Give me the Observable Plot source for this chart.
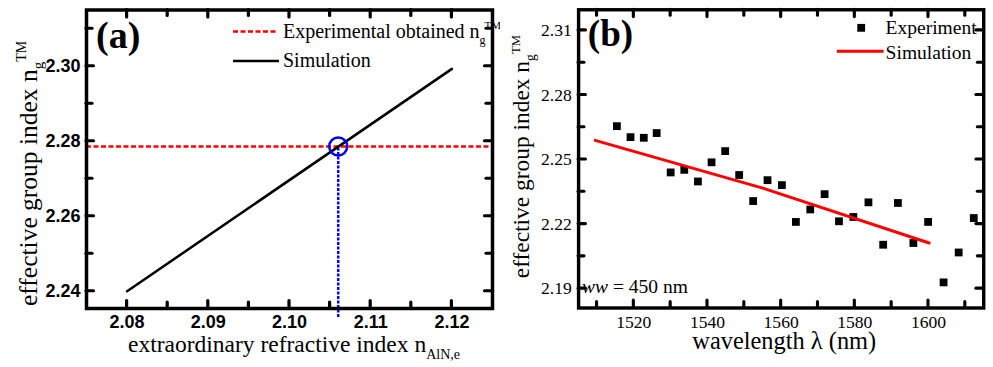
<!DOCTYPE html>
<html><head><meta charset="utf-8">
<script src="https://cdn.jsdelivr.net/npm/d3@7"></script>
<script src="https://cdn.jsdelivr.net/npm/@observablehq/plot@0.6"></script>
<style>
html,body{margin:0;padding:0;background:#fff;overflow:hidden;}
#wrap{position:relative;width:993px;height:367px;overflow:hidden;background:#fff;}
#a{position:absolute;left:0;top:0;}
#b{position:absolute;left:500px;top:0;}
</style></head><body><div id="wrap"><div id="a"></div><div id="b"></div></div>
<script>
// ---------- Panel (a) data ----------
const aSimNe = [2.08, 2.12];          // extraordinary refractive index
const aSimNg = [2.24, 2.2993];        // simulated group index
const aExpNg = 2.2786;                // experimentally obtained n_g
const aNe = 2.106;                    // extracted n_AlN,e
const aXTicks = [2.08, 2.09, 2.10, 2.11, 2.12];
const aXMinor = [2.085, 2.095, 2.105, 2.115];
const aYTicks = [2.24, 2.26, 2.28, 2.30];
const aYMinor = [2.25, 2.27, 2.29, 2.31];

// ---------- Panel (b) data ----------
const bWavelength = [1515.4,1519.1,1522.7,1526.2,1530.0,1533.7,1537.4,1541.1,1544.8,1548.6,1552.4,1556.3,1560.2,1564.0,1567.9,1571.8,1575.7,1579.6,1583.7,1587.7,1591.7,1595.9,1599.9,1604.1,1608.2,1612.3];
const bExperiment = [2.2655,2.2604,2.2601,2.2623,2.2440,2.2452,2.2398,2.2487,2.2539,2.2428,2.2307,2.2404,2.2381,2.2210,2.2268,2.2339,2.2213,2.2233,2.2301,2.2104,2.2298,2.2112,2.2210,2.1929,2.2068,2.2228];
const bSimWavelength = [1509.5, 1555, 1600.2];
const bSimulation = [2.2589, 2.2367, 2.2112];
const bXTicks = [1520, 1540, 1560, 1580, 1600];
const bXMinor = [1510, 1530, 1550, 1570, 1590, 1610];
const bYTicks = [2.19, 2.22, 2.25, 2.28, 2.31];
const bYMinor = [2.205, 2.235, 2.265, 2.295];

const H = 367;
const serif = "'Liberation Serif', 'Times New Roman', serif";
const sans = "'Liberation Sans', Arial, sans-serif";

// inward ticks on all four sides, positioned with the plot's own x/y scales
function innerTicks(svg, xs, xm, ys, ym, M) {
  const sx = svg.scale("x"), sy = svg.scale("y");
  const g = d3.select(svg).append("g").attr("stroke", "black").attr("stroke-width", 3.2).attr("stroke-linecap", "round");
  const left = M.l, right = M.w - M.r, top = M.t, bottom = H - M.b;
  [[xs, 7.5], [xm, 6]].forEach(([v, L]) => v.forEach(d => {
    const x = sx.apply(d);
    g.append("line").attr("x1", x).attr("x2", x).attr("y1", bottom).attr("y2", bottom - L);
    g.append("line").attr("x1", x).attr("x2", x).attr("y1", top).attr("y2", top + L);
  }));
  [[ys, 7.5], [ym, 6]].forEach(([v, L]) => v.forEach(d => {
    const y = sy.apply(d);
    g.append("line").attr("y1", y).attr("y2", y).attr("x1", left).attr("x2", left + L);
    g.append("line").attr("y1", y).attr("y2", y).attr("x1", right).attr("x2", right - L);
  }));
}

// ---------- Panel (a) ----------
const aM = {l: 86, r: 8, t: 9.5, b: 59, w: 500};
const aDomX = [2.075, 2.125], aDomY = [2.2354, 2.315];
const aLine = aSimNe.map((x, i) => ({x, y: aSimNg[i]}));
const svgA = Plot.plot({
  width: aM.w, height: H,
  marginLeft: aM.l, marginRight: aM.r, marginTop: aM.t, marginBottom: aM.b,
  x: {domain: aDomX},
  y: {domain: aDomY},
  style: {background: "white", color: "black", fontFamily: sans, overflow: "visible"},
  marks: [
    Plot.ruleY([aExpNg], {y: d => d, stroke: "#ff0000", strokeWidth: 2.5, strokeDasharray: "5,2.5"}),
    Plot.ruleX([aNe], {x: d => d, y1: aDomY[0], y2: aExpNg, insetTop: 9, stroke: "#0000ff", strokeWidth: 2.5, strokeDasharray: "3,1.5"}),
    Plot.line(aLine, {x: "x", y: "y", stroke: "black", strokeWidth: 2.5}),
    Plot.dot([{x: aNe, y: aExpNg}], {x: "x", y: "y", r: 9, stroke: "#0000ff", strokeWidth: 2.5, fill: "none"}),
    Plot.axisX(aXTicks, {tickSize: 0, tickPadding: 7, tickFormat: d3.format(".2f"), fontSize: 18, fontWeight: "bold", fontFamily: sans, label: null}),
    Plot.axisY(aYTicks, {tickSize: 0, tickPadding: 6, tickFormat: d3.format(".2f"), fontSize: 18, fontWeight: "bold", fontFamily: sans, label: null}),
    Plot.frame({stroke: "black", strokeWidth: 3.5})
  ]
});
document.getElementById("a").appendChild(svgA);
innerTicks(svgA, aXTicks, aXMinor, aYTicks, aYMinor, aM);

// ---------- Panel (b) ----------
const bM = {l: 80, r: 10, t: 9.5, b: 52, w: 505};
const bDomX = [1505, 1615], bDomY = [2.181, 2.3196];
const bPts = bWavelength.map((x, i) => ({x, y: bExperiment[i]}));
const bSim = bSimWavelength.map((x, i) => ({x, y: bSimulation[i]}));
const svgB = Plot.plot({
  width: bM.w, height: H,
  marginLeft: bM.l, marginRight: bM.r, marginTop: bM.t, marginBottom: bM.b,
  x: {domain: bDomX},
  y: {domain: bDomY},
  style: {background: "white", color: "black", fontFamily: serif, overflow: "visible"},
  marks: [
    Plot.dot(bPts, {x: "x", y: "y", symbol: "square", r: 4.5, fill: "black", stroke: "none"}),
    Plot.line(bSim, {x: "x", y: "y", stroke: "#ff0000", strokeWidth: 3}),
    Plot.axisX(bXTicks, {tickSize: 0, tickPadding: 8, tickFormat: d3.format("d"), fontSize: 18, fontFamily: serif, label: null}),
    Plot.axisY(bYTicks, {tickSize: 0, tickPadding: 7, tickFormat: d3.format(".2f"), fontSize: 18, fontFamily: serif, label: null}),
    Plot.frame({stroke: "black", strokeWidth: 3.5})
  ]
});
document.getElementById("b").appendChild(svgB);
innerTicks(svgB, bXTicks, bXMinor, bYTicks, bYMinor, bM);

// ---------- Text annotations ----------
function addText(svg, x, y, opts) {
  const t = d3.select(svg).append("text")
    .attr("x", x).attr("y", y)
    .attr("text-anchor", "start")
    .attr("font-family", serif).attr("font-size", opts.size || 20)
    .attr("font-weight", opts.weight || "normal")
    .attr("fill", "black");
  if (opts.rotate) t.attr("transform", `rotate(-90 ${x} ${y})`);
  (opts.parts || [{t: opts.text}]).forEach(p => {
    const s = t.append("tspan").text(p.t);
    if (p.size) s.attr("font-size", p.size);
    if (p.dy) s.attr("dy", p.dy);
    if (p.dx) s.attr("dx", p.dx);
    if (p.italic) s.attr("font-style", "italic");
  });
  return t;
}

// Panel (a)
addText(svgA, 96, 48, {text: "(a)", size: 38, weight: "bold"});
addText(svgA, 37, 306, {rotate: true, size: 25.5, parts: [
  {t: "effective group index n"}, {t: "g", size: 15, dy: 6}, {t: "TM", size: 14, dy: -17, dx: 0}]});
addText(svgA, 128, 352, {size: 23.5, parts: [
  {t: "extraordinary refractive index n"}, {t: "AlN,e", size: 14, dy: 7}]});
// legend (a)
d3.select(svgA).append("line").attr("x1", 233).attr("x2", 277).attr("y1", 31.5).attr("y2", 31.5)
  .attr("stroke", "#ff0000").attr("stroke-width", 2.5).attr("stroke-dasharray", "5,2.5");
addText(svgA, 283, 37.5, {size: 20, parts: [
  {t: "Experimental obtained n"}, {t: "g", size: 12, dy: 6}, {t: "TM", size: 11, dy: -15, dx: -1}]});
d3.select(svgA).append("line").attr("x1", 233).attr("x2", 279).attr("y1", 61).attr("y2", 61)
  .attr("stroke", "black").attr("stroke-width", 2.5);
addText(svgA, 283, 67, {text: "Simulation", size: 20});

// Panel (b)
addText(svgB, 90, 47, {text: "(b)", size: 38, weight: "bold"});
addText(svgB, 30, 285, {rotate: true, size: 24, parts: [
  {t: "effective group index n"}, {t: "g", size: 14, dy: 6}, {t: "TM", size: 13, dy: -16, dx: 0}]});
addText(svgB, 197, 357, {text: "wavelength \u03bb (nm)", size: 25});
addText(svgB, 84, 300, {size: 20, parts: [{t: "ww", italic: true}, {t: " = 450 nm"}]});
// legend (b)
d3.select(svgB).append("rect").attr("x", 366).attr("y", 24.5).attr("width", 8).attr("height", 8).attr("fill", "black");
addText(svgB, 395, 35, {text: "Experiment", size: 20});
d3.select(svgB).append("line").attr("x1", 345).attr("x2", 393).attr("y1", 52.5).attr("y2", 52.5)
  .attr("stroke", "#ff0000").attr("stroke-width", 3);
addText(svgB, 395, 60, {text: "Simulation", size: 20});
</script>
</body></html>
